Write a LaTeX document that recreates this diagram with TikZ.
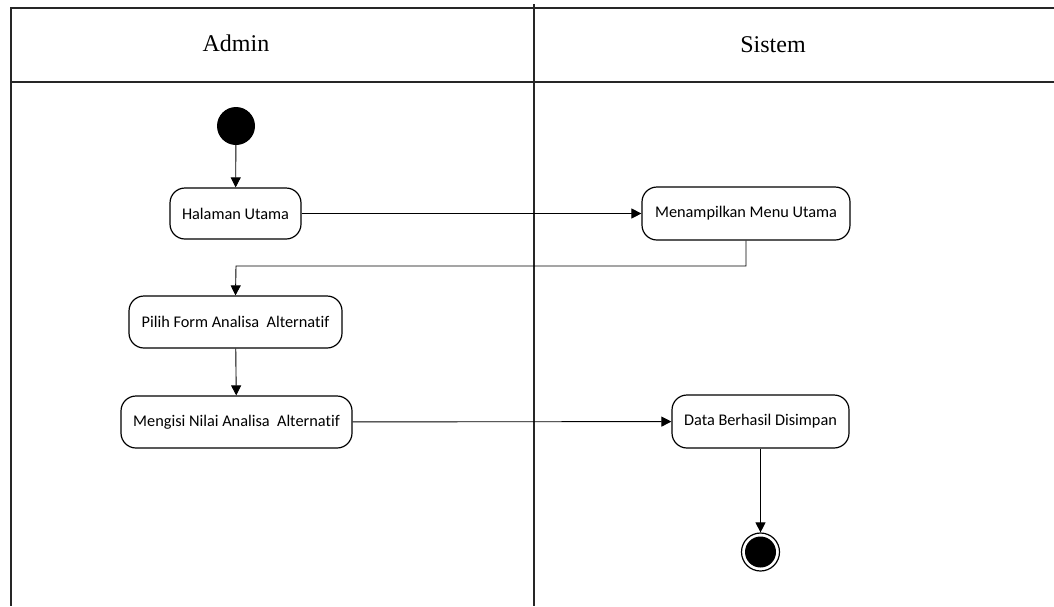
\documentclass[tikz,border=0pt]{standalone}
\usepackage{fontspec}
\setmainfont{Liberation Serif}
\newfontfamily\actfont[Ligatures=NoCommon]{Carlito}
\usetikzlibrary{arrows.meta}
\begin{document}
\begin{tikzpicture}[x=1pt,y=-1pt,
  lane/.style={line width=1.6pt,draw=black!85},
  act/.style={draw,line width=1.2pt,rounded corners=15pt,font=\actfont\fontsize{16.3}{19}\selectfont,inner sep=0pt,anchor=center},
  flow/.style={line width=0.9pt,-{Triangle[length=10pt,width=10pt]}},
  hdr/.style={font=\fontsize{24}{28}\selectfont}]
\useasboundingbox (0,0) rectangle (1054,606);
% swimlanes
\draw[lane] (1054,8) -- (11,8) -- (11,606);
\draw[lane] (11,82) -- (1054,82);
\draw[lane] (534,4) -- (534,606);
\node[hdr] (admin) at (236,43) {Admin};
\node[hdr] (sistem) at (773,45) {Sistem};
% nodes
\node[circle,fill=black,minimum size=38pt,inner sep=0pt] (start) at (236,126) {};
\node[act,minimum width=131pt,minimum height=51pt] (halaman) at (235.5,213.5) {Halaman Utama};
\node[act,minimum width=208pt,minimum height=53pt] (menu) at (746,213.5) {Menampilkan Menu Utama};
\node[act,minimum width=213pt,minimum height=52pt] (pilih) at (235.5,322) {Pilih Form Analisa\ \ Alternatif};
\node[act,minimum width=231pt,minimum height=52pt] (isi) at (236.5,422) {Mengisi Nilai Analisa\ \ Alternatif};
\node[act,minimum width=177pt,minimum height=53pt] (data) at (760.5,421.5) {Data Berhasil Disimpan};
\node[circle,draw,line width=1.2pt,minimum size=38pt,inner sep=0pt] (end) at (760.5,552) {};
\node[circle,fill=black,minimum size=31pt,inner sep=0pt] (endin) at (end.center) {};
% connectors
\draw[flow] (start) -- (halaman);
\draw[flow] (halaman) -- (menu);
\coordinate (c1) at (746,266);
\coordinate (c2) at (236,266);
\draw[flow] (menu.south) -- (c1) -- (c2) -- (pilih.north);
\draw[flow] (pilih) -- (isi);
\draw[flow] (isi) -- (data);
\draw[flow] (data) -- (end);
\end{tikzpicture}
\end{document}
